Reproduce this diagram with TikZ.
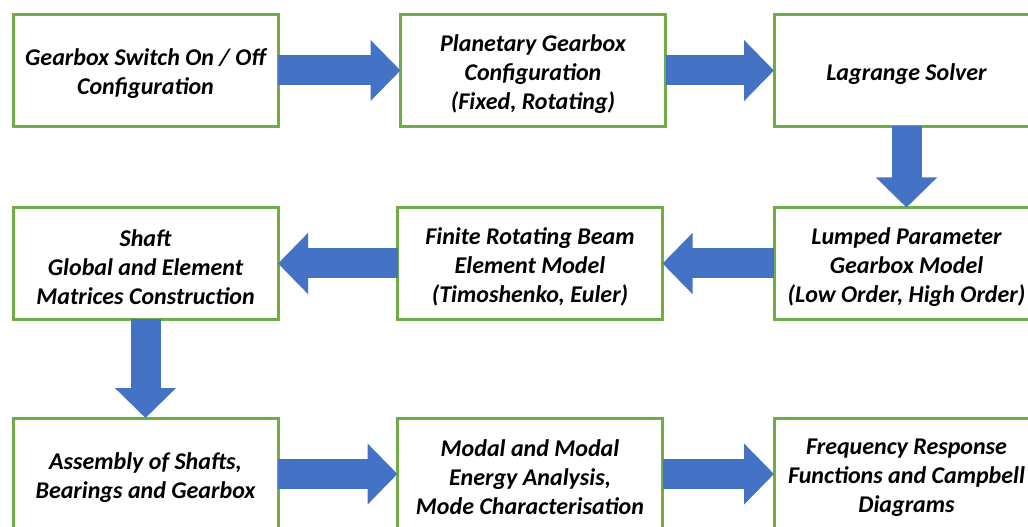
\documentclass[tikz,border=0pt]{standalone}
\usepackage{fontspec}
\setmainfont{Carlito}
\usetikzlibrary{arrows.meta}
\definecolor{boxgreen}{HTML}{70AD47}
\definecolor{arrowblue}{HTML}{4472C4}
\begin{document}
\begin{tikzpicture}[x=0.75pt,y=-0.75pt,
  boxtext/.style={align=center, inner sep=0pt, yshift=-2.6pt,
    font=\fontsize{18pt}{21.75pt}\selectfont\bfseries\itshape},
  stepbox/.style={draw=boxgreen, line width=2.25pt, fill=white, minimum width=198.75pt, minimum height=84pt,
    inner sep=0pt, outer sep=0pt, label={[boxtext]center:#1}},
  blockarrow/.style={draw=arrowblue, line width=22.5pt,
    -{Triangle[length=22.5pt, width=44.5pt, fill=arrowblue]}}]
\clip (0,0) rectangle (1028,527);
\fill[white] (0,0) rectangle (1028,527);
% row 1
\node[stepbox={Gearbox Switch On / Off\\Configuration}] (switch) at (145.5,70.5) {};
\node[stepbox={Planetary Gearbox\\Configuration\\(Fixed, Rotating)}] (planet) at (533,70.5) {};
\node[stepbox={Lagrange Solver}] (lagrange) at (906.5,70.5) {};
% row 2
\node[stepbox={Shaft\\Global and Element\\Matrices Construction}] (shaft) at (145.5,263.5) {};
\node[stepbox={Finite Rotating Beam\\Element Model\\(Timoshenko, Euler)}] (beam) at (530,263.5) {};
\node[stepbox={Lumped Parameter\\Gearbox Model\\(Low Order, High Order)}] (lumped) at (906.5,263.5) {};
% row 3
\node[stepbox={Assembly of Shafts,\\Bearings and Gearbox}] (assembly) at (145.5,474) {};
\node[stepbox={Modal and Modal\\Energy Analysis,\\Mode Characterisation}] (modal) at (530,474) {};
\node[stepbox={Frequency Response\\Functions and Campbell\\Diagrams}] (frf) at (906.5,474) {};
% arrows
\draw[blockarrow] (switch.east) -- (planet.west);
\draw[blockarrow] (planet.east) -- (lagrange.west);
\draw[blockarrow] (lagrange.south) -- (lumped.north);
\draw[blockarrow] (lumped.west) -- (beam.east);
\draw[blockarrow] (beam.west) -- (shaft.east);
\draw[blockarrow] (shaft.south) -- (assembly.north);
\draw[blockarrow] (assembly.east) -- (modal.west);
\draw[blockarrow] (modal.east) -- (frf.west);
\end{tikzpicture}
\end{document}
